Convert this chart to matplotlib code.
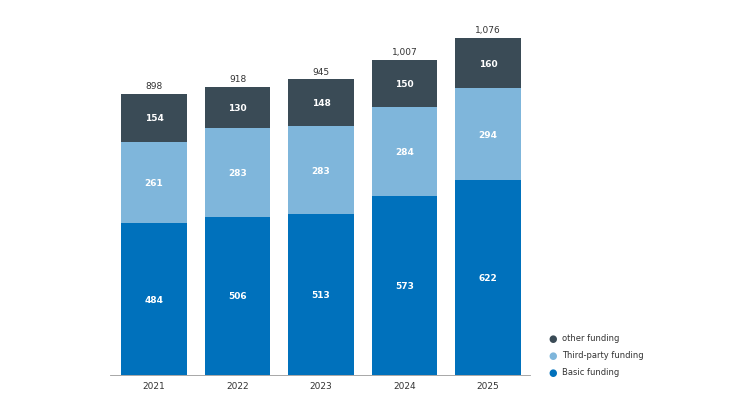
import matplotlib
matplotlib.use("Agg")
import matplotlib.pyplot as plt

years = ["2021", "2022", "2023", "2024", "2025"]
basic = [484, 506, 513, 573, 622]
third = [261, 283, 283, 284, 294]
other = [154, 130, 148, 150, 160]
totals = ["898", "918", "945", "1,007", "1,076"]

c_basic, c_third, c_other = "#0071BC", "#7FB6DB", "#3A4B56"
W, H = 733, 414
fig = plt.figure(figsize=(W/100, H/100), dpi=100)
ax = fig.add_axes([110/W, 1-376/H, 420/W, 356/H])
x = list(range(len(years)))
ax.bar(x, basic, width=0.79, color=c_basic)
ax.bar(x, third, width=0.79, bottom=basic, color=c_third)
b2 = [a+b for a, b in zip(basic, third)]
ax.bar(x, other, width=0.79, bottom=b2, color=c_other)
for i in x:
    ax.text(i, basic[i]/2, str(basic[i]), ha="center", va="center", color="white", fontsize=6.5, fontweight="bold")
    ax.text(i, basic[i]+third[i]/2, str(third[i]), ha="center", va="center", color="white", fontsize=6.5, fontweight="bold")
    ax.text(i, b2[i]+other[i]/2, str(other[i]), ha="center", va="center", color="white", fontsize=6.5, fontweight="bold")
    ax.text(i, b2[i]+other[i]+12, totals[i], ha="center", va="bottom", color="#333333", fontsize=6.5)
ax.set_xlim(-0.527, 4.503)
ax.set_ylim(0, 1137)
ax.set_xticks(x, years)
ax.tick_params(axis="x", length=0, labelsize=6.5, colors="#333333", pad=4)
ax.set_yticks([])
for s in ["top", "right", "left"]:
    ax.spines[s].set_visible(False)
ax.spines["bottom"].set_color("#999999")
ax.spines["bottom"].set_linewidth(0.6)

for (lbl, col, ypx) in [("other funding", c_other, 339), ("Third-party funding", c_third, 356), ("Basic funding", c_basic, 373)]:
    fig.text(553/W, 1-ypx/H, "●", color=col, fontsize=7, ha="center", va="center")
    fig.text(562/W, 1-ypx/H, lbl, color="#333333", fontsize=6, ha="left", va="center")
fig.savefig("out.png", dpi=100)
